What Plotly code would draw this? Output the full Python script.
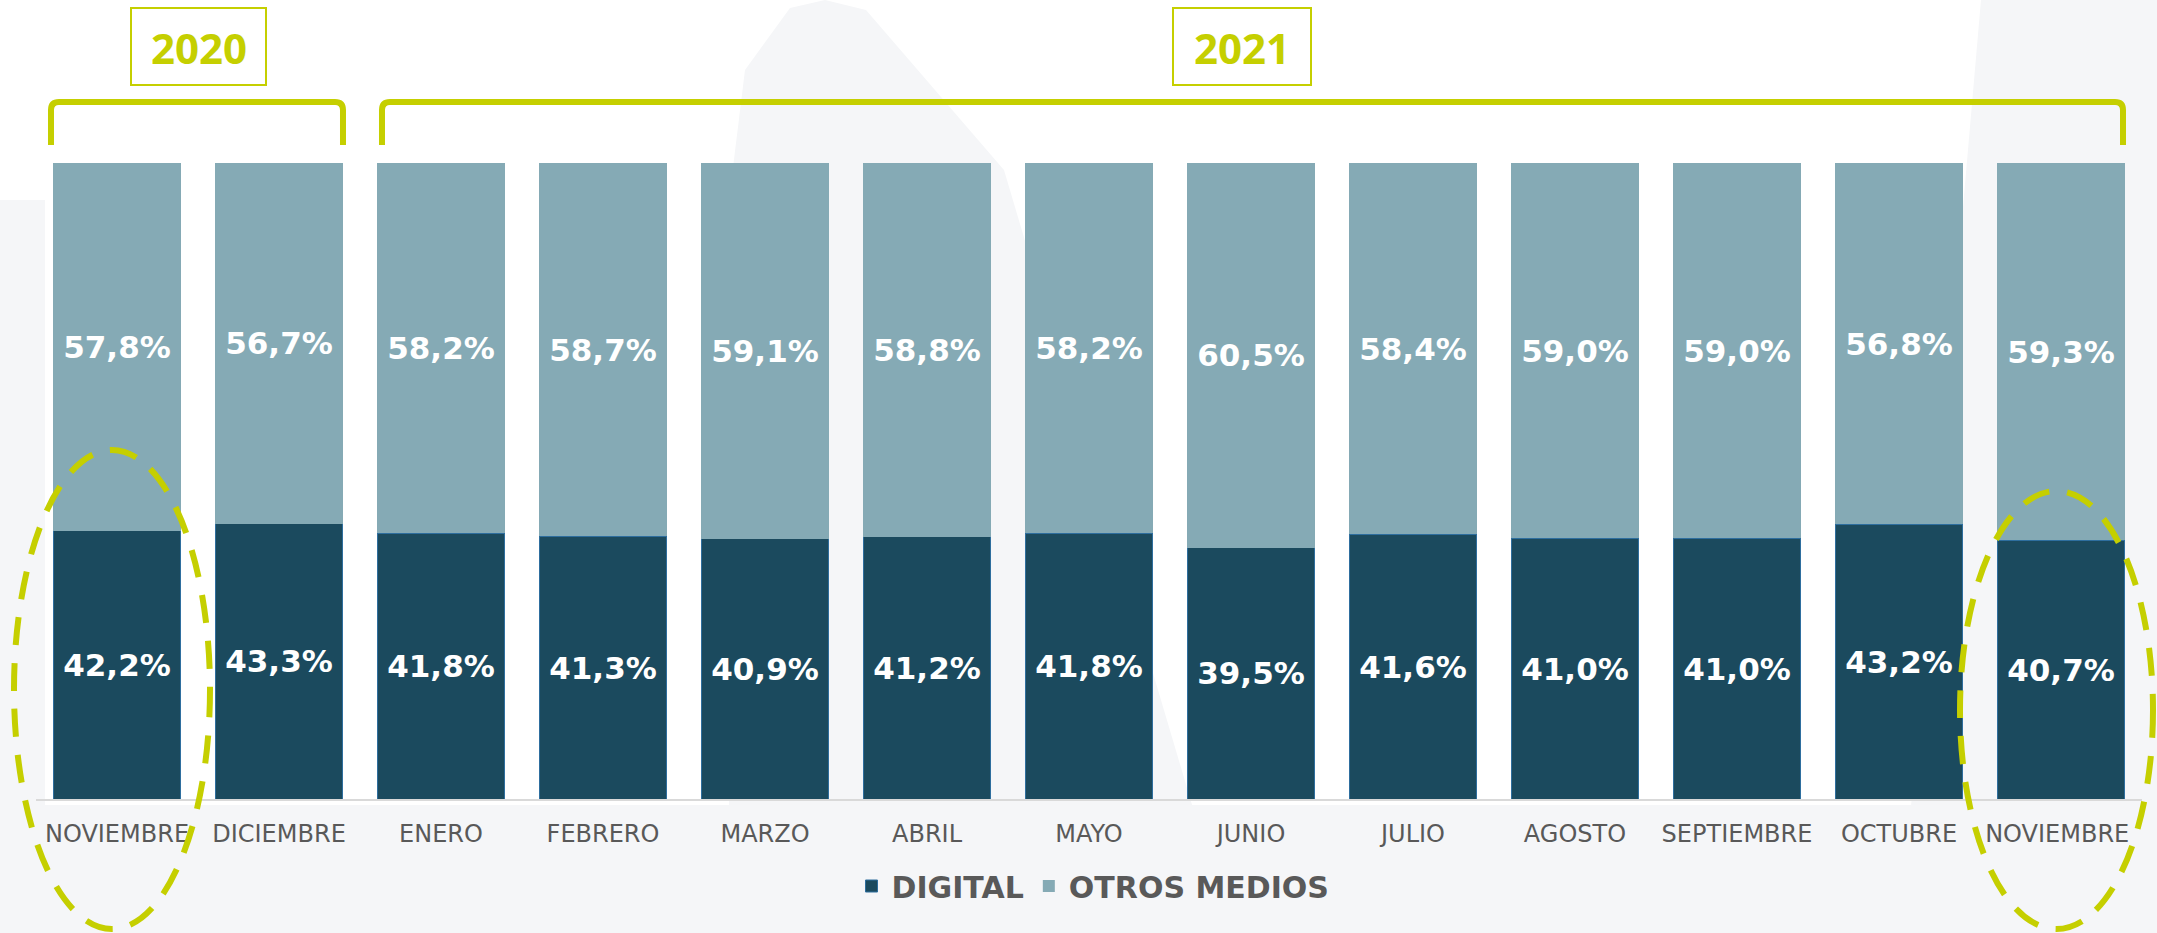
import plotly.graph_objects as go

# ---------------- data ----------------
months = ["NOVIEMBRE", "DICIEMBRE", "ENERO", "FEBRERO", "MARZO", "ABRIL", "MAYO",
          "JUNIO", "JULIO", "AGOSTO", "SEPTIEMBRE", "OCTUBRE", "NOVIEMBRE "]
digital = [42.2, 43.3, 41.8, 41.3, 40.9, 41.2, 41.8, 39.5, 41.6, 41.0, 41.0, 43.2, 40.7]
otros = [57.8, 56.7, 58.2, 58.7, 59.1, 58.8, 58.2, 60.5, 58.4, 59.0, 59.0, 56.8, 59.3]
series_names = ["DIGITAL", "OTROS MEDIOS"]
years = ["2020", "2021"]

# ---------------- style ----------------
W, H = 2157, 933
ML, MR, MT, MB = 36, 15, 163, 134
PW, PH = W - ML - MR, H - MT - MB
C_DIG = "#1B4A5E"
C_OTR = "#85AAB5"
C_LIME = "#C5CF00"
C_TXT = "#595959"
C_BG = "#F5F6F8"


def px(x, y):
    """pixel -> paper coords (decorations only)"""
    return (x - ML) / PW, (H - MB - y) / PH


def poly(points):
    pts = [px(x, y) for x, y in points]
    return "M " + " L ".join(f"{a:.5f},{b:.5f}" for a, b in pts) + " Z"


fig = go.Figure()
fig.add_trace(go.Bar(
    x=months, y=digital, name=series_names[0],
    marker=dict(color=C_DIG, line=dict(color="#2E6E9E", width=1)),
    texttemplate="%{y:.1f}%", textposition="inside", insidetextanchor="middle",
    textfont=dict(family="DejaVu Sans", size=31, color="white", weight="bold"),
    constraintext="none", textangle=0,
))
fig.add_trace(go.Bar(
    x=months, y=otros, name=series_names[1],
    marker=dict(color=C_OTR, line=dict(width=0)),
    texttemplate="%{y:.1f}%", textposition="inside", insidetextanchor="middle",
    textfont=dict(family="DejaVu Sans", size=31, color="white", weight="bold"),
    constraintext="none", textangle=0,
))

shapes = []
# background watermark (light gray shapes)
for pts in [
    [(0, 805), (W, 805), (W, H), (0, H)],
    [(729, H), (729, 200), (745, 70), (790, 8), (825, 0), (866, 10), (1004, 170), (1230, H)],
    [(1981, 0), (W, 0), (W, H), (1900, H)],
    [(0, 200), (45, 200), (45, H), (0, H)],
]:
    shapes.append(dict(type="path", xref="paper", yref="paper", path=poly(pts),
                       fillcolor=C_BG, line=dict(width=0), layer="below"))


def bracket(x0, x1, yh=102, yb=145, r=8):
    p = (f"M {px(x0, yb)[0]:.5f},{px(x0, yb)[1]:.5f} "
         f"L {px(x0, yh + r)[0]:.5f},{px(x0, yh + r)[1]:.5f} "
         f"Q {px(x0, yh)[0]:.5f},{px(x0, yh)[1]:.5f} {px(x0 + r, yh)[0]:.5f},{px(x0 + r, yh)[1]:.5f} "
         f"L {px(x1 - r, yh)[0]:.5f},{px(x1 - r, yh)[1]:.5f} "
         f"Q {px(x1, yh)[0]:.5f},{px(x1, yh)[1]:.5f} {px(x1, yh + r)[0]:.5f},{px(x1, yh + r)[1]:.5f} "
         f"L {px(x1, yb)[0]:.5f},{px(x1, yb)[1]:.5f}")
    return dict(type="path", xref="paper", yref="paper", path=p,
                line=dict(color=C_LIME, width=6))


shapes.append(bracket(51, 343))
shapes.append(bracket(382, 2123))

# year boxes
for (x0, x1) in [(131, 266), (1173, 1311)]:
    a, b = px(x0, 85)
    c, d = px(x1, 8)
    shapes.append(dict(type="rect", xref="paper", yref="paper", x0=a, y0=b, x1=c, y1=d,
                       line=dict(color=C_LIME, width=2), fillcolor="white"))

# dashed ellipses
for (x0, y0, x1, y1) in [(14, 450, 210, 929), (1960, 491, 2153, 929)]:
    a, b = px(x0, y1)
    c, d = px(x1, y0)
    shapes.append(dict(type="circle", xref="paper", yref="paper", x0=a, y0=b, x1=c, y1=d,
                       line=dict(color=C_LIME, width=6, dash="28px,18px")))

annotations = []
for yr, cx in zip(years, [198.5, 1242]):
    a, b = px(cx, 47)
    annotations.append(dict(text=f"<b>{yr}</b>", x=a, y=b, xref="paper", yref="paper",
                            showarrow=False, xanchor="center", yanchor="middle",
                            font=dict(family="Open Sans", size=42, color=C_LIME)))

lx, ly = px(1093, 886)
fig.update_layout(
    width=W, height=H,
    margin=dict(l=ML, r=MR, t=MT, b=MB, pad=0),
    barmode="stack", bargap=0.21,
    separators=",.",
    paper_bgcolor="white", plot_bgcolor="rgba(0,0,0,0)",
    showlegend=True,
    legend=dict(orientation="h", x=lx, y=ly, xanchor="center", yanchor="middle",
                font=dict(family="DejaVu Sans", size=30, color=C_TXT, weight="bold"),
                bgcolor="rgba(0,0,0,0)", traceorder="normal"),
    xaxis=dict(showline=True, linecolor="#D9D9D9", linewidth=2, showgrid=False,
               ticks="", ticklabelstandoff=12,
               tickfont=dict(family="DejaVu Sans", size=24, color=C_TXT),
               range=[-0.5, 12.5], fixedrange=True),
    yaxis=dict(visible=False, range=[0, 100], showgrid=False, fixedrange=True),
    shapes=shapes, annotations=annotations,
)

fig.write_html("out.html", config={"displayModeBar": False},
               post_script="document.body.style.margin='0';document.body.style.overflow='hidden';")
